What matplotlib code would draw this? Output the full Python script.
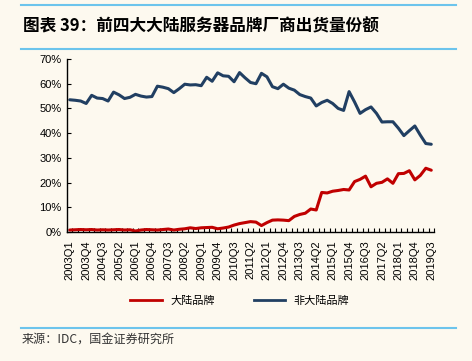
import numpy as np
import matplotlib
matplotlib.use('Agg')
import matplotlib.pyplot as plt
from matplotlib.lines import Line2D

plt.rcParams['font.family'] = ['Liberation Sans', 'Noto Sans CJK SC', 'DejaVu Sans']

# quarters 2003Q1 .. 2019Q3
quarters = ['%dQ%d' % (y, q) for y in range(2003, 2020) for q in range(1, 5)][:67]

mainland = [0.8, 0.9, 1.0, 0.9, 1.0, 0.8, 0.9, 0.8, 0.9, 1.0,
            0.8, 0.9, 0.4, 0.8, 1.0, 0.9, 0.8, 1.0, 1.2, 0.8,
            1.1, 1.3, 1.7, 1.4, 1.7, 1.8, 1.9, 1.3, 1.6, 2.0,
            2.8, 3.4, 3.8, 4.2, 4.0, 2.6, 3.8, 4.8, 4.9, 4.8,
            4.6, 6.3, 7.1, 7.6, 9.3, 8.9, 16.0, 15.8, 16.5, 16.8,
            17.2, 17.0, 20.4, 21.3, 22.6, 18.3, 19.7, 20.1, 21.5, 19.7,
            23.6, 23.7, 24.8, 21.1, 22.9, 25.8, 25.0]

non_mainland = [53.5, 53.3, 53.0, 52.0, 55.3, 54.2, 54.0, 53.0, 56.6, 55.5,
                54.0, 54.5, 55.7, 55.0, 54.6, 54.8, 59.0, 58.6, 58.0, 56.4,
                58.0, 59.8, 59.5, 59.6, 59.2, 62.6, 61.0, 64.4, 63.2, 63.0,
                60.8, 64.5, 62.4, 60.5, 60.0, 64.2, 62.8, 58.8, 58.0, 59.8,
                58.2, 57.4, 55.6, 54.8, 54.2, 51.0, 52.4, 53.3, 52.0, 50.0,
                49.2, 56.8, 52.6, 48.0, 49.5, 50.6, 48.0, 44.5, 44.6, 44.6,
                42.0, 39.0, 41.0, 42.9, 39.2, 35.8, 35.5]

bg = '#FDF9EF'
red = '#C00000'
blue = '#213F62'
rule = '#6CC4EC'

fig = plt.figure(figsize=(4.72, 3.61), dpi=100, facecolor=bg)
ax = fig.add_axes([67 / 472, 1 - 232 / 361, (434 - 67) / 472, (232 - 59) / 361])
ax.set_facecolor(bg)

x = np.arange(len(quarters))
ax.plot(x, mainland, color=red, lw=2.2, solid_joinstyle='round', solid_capstyle='round')
ax.plot(x, non_mainland, color=blue, lw=2.2, solid_joinstyle='round', solid_capstyle='round')

ax.set_xlim(-0.5, len(quarters) - 0.5)
ax.set_ylim(0, 70)
ax.set_yticks(np.arange(0, 71, 10))
ax.set_yticklabels(['%d%%' % v for v in range(0, 71, 10)], fontsize=8)

# category axis: ticks on boundaries, labels at centres every 3 quarters
ax.set_xticks(np.arange(len(quarters) + 1) - 0.5)
ax.set_xticklabels([])
ax.set_xticks(x[::3], minor=True)
ax.set_xticklabels(quarters[::3], minor=True, rotation=90, fontsize=8)
ax.tick_params(axis='x', which='major', direction='in', length=3, width=0.8)
ax.tick_params(axis='x', which='minor', length=0, pad=6)
ax.tick_params(axis='y', direction='in', length=3, width=0.8, pad=4)

for s in ['top', 'right']:
    ax.spines[s].set_visible(False)
for s in ['left', 'bottom']:
    ax.spines[s].set_linewidth(1.0)
    ax.spines[s].set_color('black')

handles = [Line2D([], [], color=red, lw=2.0), Line2D([], [], color=blue, lw=2.0)]
fig.legend(handles, ['大陆品牌', '非大陆品牌'], loc='center', bbox_to_anchor=(240 / 472, 1 - 301 / 361),
           ncol=2, frameon=False, handlelength=2.8, columnspacing=3.5,
           prop={'family': ['Noto Sans CJK SC'], 'size': 8})

# header / footer rules
for yy in [5, 49, 328]:
    fig.add_artist(Line2D([21 / 472, 456 / 472], [1 - yy / 361, 1 - yy / 361], color=rule, lw=1.5))

fig.text(23 / 472, 1 - 26 / 361, '图表 39：前四大大陆服务器品牌厂商出货量份额', fontsize=12, fontweight='bold',
         style='italic', va='center', ha='left', family=['Noto Sans CJK SC', 'DejaVu Sans'])
fig.text(22 / 472, 1 - 339 / 361, '来源：IDC，国金证券研究所', fontsize=8.7, va='center', ha='left',
         color='#333333', family=['Noto Sans CJK SC', 'DejaVu Sans'])

fig.savefig('out.png', dpi=100, facecolor=bg)
